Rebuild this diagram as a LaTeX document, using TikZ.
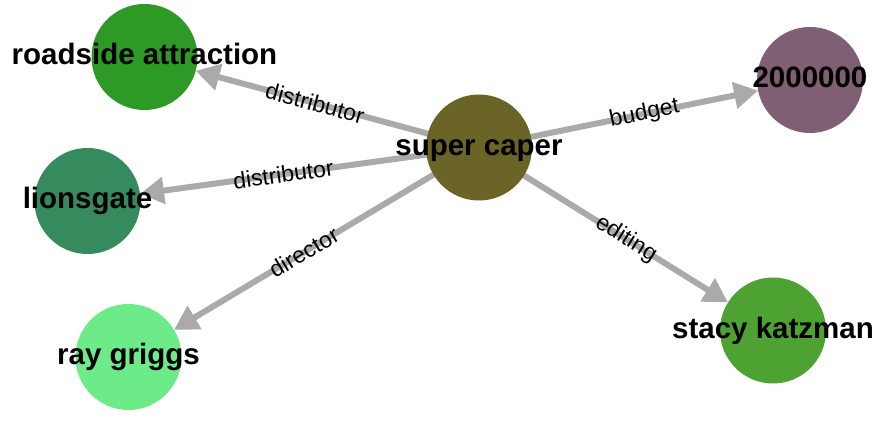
\documentclass[tikz,border=0pt]{standalone}
\usepackage{fontspec}
\setmainfont{Liberation Sans}
\usetikzlibrary{arrows.meta}
\pgfdeclarelayer{background}
\pgfsetlayers{background,main}
\definecolor{edgegray}{HTML}{AAAAAA}
\definecolor{cSC}{HTML}{6B6427}
\definecolor{cRA}{HTML}{2E9A26}
\definecolor{cLI}{HTML}{358A5E}
\definecolor{cRG}{HTML}{6CEB88}
\definecolor{cBU}{HTML}{7F5F73}
\definecolor{cSK}{HTML}{4EA231}
\begin{document}
\begin{tikzpicture}[x=1bp,y=-1bp,
  ent/.style={circle, minimum size=106bp, inner sep=0pt, draw=none, fill=#1},
  nlab/.style={anchor=base, inner sep=0pt, font=\fontsize{29.5bp}{30bp}\selectfont\bfseries},
  rel/.style={draw=edgegray, line width=6bp, -{Triangle[length=24bp,width=26bp]}, shorten >=53bp},
  elab/.style={sloped, inner sep=0pt, text=black, font=\fontsize{23bp}{24bp}\selectfont}]
\begin{pgfonlayer}{background}
\fill[white] (0,0) rectangle (884,446);
\end{pgfonlayer}
\useasboundingbox (0,0) rectangle (884,446);
% circles
\node[ent=cSC] (sc) at (479,147.5) {};
\node[ent=cRA] (ra) at (144.5,57) {};
\node[ent=cLI] (li) at (87.5,201) {};
\node[ent=cRG] (rg) at (128.5,357) {};
\node[ent=cBU] (bu) at (810,80) {};
\node[ent=cSK] (sk) at (773,330.5) {};
% edges
\begin{pgfonlayer}{background}
\draw[rel] (sc.center) -- node[elab, pos=0.49] {distributor} (ra.center);
\draw[rel] (sc.center) -- node[elab] {distributor} (li.center);
\draw[rel] (sc.center) -- node[elab] {director} (rg.center);
\draw[rel] (sc.center) -- node[elab] {budget} (bu.center);
\draw[rel] (sc.center) -- node[elab] {editing} (sk.center);
\end{pgfonlayer}
% labels
\node[nlab] (sct) at (479,155.5) {super caper};
\node[nlab] (rat) at (144.5,65) {roadside attraction};
\node[nlab] (lit) at (87.5,209) {lionsgate};
\node[nlab] (rgt) at (128.5,364.5) {ray griggs};
\node[nlab] (but) at (810,88) {2000000};
\node[nlab] (skt) at (773,338.5) {stacy katzman};
\end{tikzpicture}
\end{document}
